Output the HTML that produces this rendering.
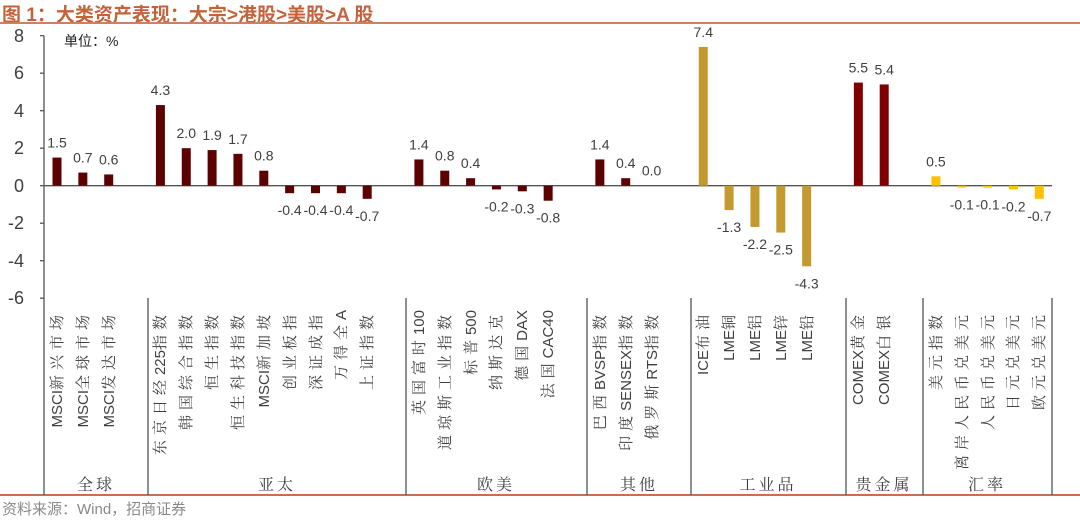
<!DOCTYPE html>
<html><head><meta charset="utf-8"><style>
body{margin:0;width:1080px;height:521px;background:#fff;overflow:hidden;position:relative;font-family:"Liberation Sans","Noto Sans CJK SC",sans-serif;}
.t{position:absolute;left:2px;top:0px;font-size:19px;font-weight:bold;color:#c4633a;white-space:nowrap;}
.v{position:absolute;top:310px;height:20px;line-height:20px;font-size:15px;color:#404040;white-space:nowrap;transform-origin:0 0;transform:rotate(-90deg) translateX(-100%);}
.v span{letter-spacing:5px;font-family:"Noto Serif CJK SC","Noto Sans CJK SC",sans-serif;}
.g{position:absolute;top:472px;font-size:16px;color:#404040;transform:translateX(-50%);white-space:nowrap;letter-spacing:3px;font-family:"Noto Serif CJK SC","Noto Sans CJK SC",sans-serif;}
.s{position:absolute;left:2px;top:498px;font-size:15px;color:#8a8a8a;white-space:nowrap;}
</style></head><body>
<div class="t">图 1：大类资产表现：大宗&gt;港股&gt;美股&gt;A 股</div>
<svg width="1080" height="521" style="position:absolute;left:0;top:0" font-family="Liberation Sans, Noto Sans CJK SC, sans-serif">
<line x1="0" y1="23" x2="1080" y2="23" stroke="#d0805f" stroke-width="2"/>
<line x1="0" y1="495" x2="1080" y2="495" stroke="#c8704e" stroke-width="2"/>
<g stroke="#555" stroke-width="1.3">
<line x1="44" y1="36" x2="44" y2="495"/>
<line x1="44" y1="185.7" x2="1052" y2="185.7"/>
<line x1="40" y1="35.7" x2="44" y2="35.7"/><line x1="40" y1="73.2" x2="44" y2="73.2"/><line x1="40" y1="110.7" x2="44" y2="110.7"/><line x1="40" y1="148.2" x2="44" y2="148.2"/><line x1="40" y1="185.7" x2="44" y2="185.7"/><line x1="40" y1="223.2" x2="44" y2="223.2"/><line x1="40" y1="260.7" x2="44" y2="260.7"/><line x1="40" y1="298.2" x2="44" y2="298.2"/>
<line x1="148" y1="298" x2="148" y2="495"/><line x1="406" y1="298" x2="406" y2="495"/><line x1="587" y1="298" x2="587" y2="495"/><line x1="691" y1="298" x2="691" y2="495"/><line x1="846" y1="298" x2="846" y2="495"/><line x1="923" y1="298" x2="923" y2="495"/><line x1="1052" y1="298" x2="1052" y2="495"/>
</g>
<g font-size="18" fill="#404040" text-anchor="end">
<text x="24" y="42">8</text><text x="24" y="79">6</text><text x="24" y="117">4</text><text x="24" y="154">2</text><text x="24" y="192">0</text><text x="24" y="229">-2</text><text x="24" y="267">-4</text><text x="24" y="304">-6</text>
</g>
<text x="64" y="46" font-size="14" fill="#222">单位：%</text>
<g id="bars"></g>
</svg>
<div id="labels"></div>
<div class="g" style="left:96px">全球</div>
<div class="g" style="left:277px">亚太</div>
<div class="g" style="left:496px">欧美</div>
<div class="g" style="left:639px">其他</div>
<div class="g" style="left:768px">工业品</div>
<div class="g" style="left:884px">贵金属</div>
<div class="g" style="left:987px">汇率</div>
<div class="s">资料来源：Wind，招商证券</div>
<script>
var D=[[0,"MSCI|新兴市场",1.5,"#5c0000"],[1,"MSCI|全球市场",0.7,"#5c0000"],[2,"MSCI|发达市场",0.6,"#5c0000"],
[4,"东京日经|225|指数",4.3,"#5c0000"],[5,"|韩国综合指数",2.0,"#5c0000"],[6,"|恒生指数",1.9,"#5c0000"],[7,"|恒生科技指数",1.7,"#5c0000"],[8,"MSCI|新加坡",0.8,"#5c0000"],[9,"|创业板指",-0.4,"#5c0000"],[10,"|深证成指",-0.4,"#5c0000"],[11,"|万得全|A",-0.4,"#5c0000"],[12,"|上证指数",-0.7,"#5c0000"],
[14,"|英国富时|100",1.4,"#5c0000"],[15,"|道琼斯工业指数",0.8,"#5c0000"],[16,"|标普|500",0.4,"#5c0000"],[17,"|纳斯达克",-0.2,"#5c0000"],[18,"|德国|DAX",-0.3,"#5c0000"],[19,"|法国|CAC40",-0.8,"#5c0000"],
[21,"|巴西|BVSP|指数",1.4,"#5c0000"],[22,"|印度|SENSEX|指数",0.4,"#5c0000"],[23,"|俄罗斯|RTS|指数",0.0,"#5c0000"],
[25,"ICE|布油",7.4,"#c49a2e"],[26,"LME|铜",-1.3,"#c49a2e"],[27,"LME|铝",-2.2,"#c49a2e"],[28,"LME|锌",-2.5,"#c49a2e"],[29,"LME|铅",-4.3,"#c49a2e"],
[31,"COMEX|黄金",5.5,"#7f0000"],[32,"COMEX|白银",5.4,"#7f0000"],
[34,"|美元指数",0.5,"#ffc000"],[35,"|离岸人民币兑美元",-0.1,"#ffc000"],[36,"|人民币兑美元",-0.1,"#ffc000"],[37,"|日元兑美元",-0.2,"#ffc000"],[38,"|欧元兑美元",-0.7,"#ffc000"]];
var z=185.7,u=18.75,b="",L="";
D.forEach(function(d){var x=57+25.85*d[0],h=d[2]*u,y=h>=0?z-h:z,hh=Math.abs(h);
b+='<rect x="'+(x-4.5)+'" y="'+y+'" width="9" height="'+hh+'" fill="'+d[3]+'"/>';
var ty=d[2]>=0?z-h-10:z-h+22;
b+='<text x="'+x+'" y="'+ty+'" font-size="14" fill="#404040" text-anchor="middle">'+d[2].toFixed(1)+'</text>';
var p=d[1].split("|"),s="";p.forEach(function(t,i){if(!t)return;s+=/[\u4e00-\u9fff]/.test(t)?'<span>'+t+'</span>':t;});
L+='<div class="v" style="left:'+(x-10)+'px">'+s+'</div>';});
document.getElementById("bars").innerHTML=b;document.getElementById("labels").innerHTML=L;
</script>
</body></html>
